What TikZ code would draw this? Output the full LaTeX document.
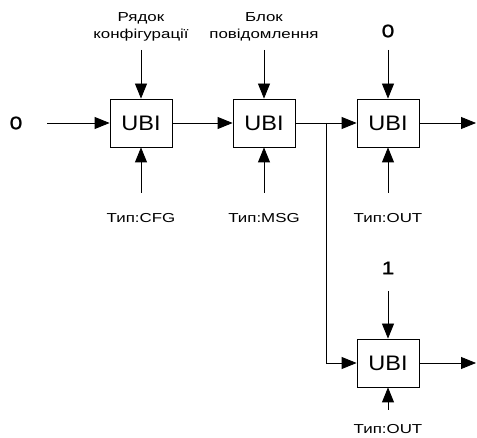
\documentclass[tikz,border=0pt]{standalone}
\usepackage{fontspec}
\setmainfont{Liberation Sans}
\newfontfamily\widefont[FakeStretch=1.3]{Liberation Sans}
\newfontfamily\ubifont[FakeStretch=1.12]{Liberation Sans}
\newfontfamily\digitfont[FakeStretch=1.25, FakeBold=1.2]{Liberation Sans}
\usepackage{tikz}
\usetikzlibrary{arrows.meta, positioning, calc}

\tikzset{
  ubi/.style={draw, line width=0.8pt, minimum width=62pt, minimum height=48pt, inner sep=0pt, font=\ubifont\fontsize{21}{21}\selectfont},
  lbl/.style={inner sep=0pt, align=center, font=\widefont\fontsize{13}{17}\selectfont},
  digit/.style={inner sep=0pt, font=\digitfont\fontsize{18}{18}\selectfont}
}

\begin{document}
\begin{tikzpicture}[x=1pt, y=-1pt, line width=0.8pt, >={Triangle[length=15pt, width=12pt]}]
  \useasboundingbox (0,0) rectangle (477,438);

  % blocks
  \node[ubi] (cfg) at (141,123) {UBI};
  \node[ubi] (msg) at (264,123) {UBI};
  \node[ubi] (outa) at (388,123) {UBI};
  \node[ubi] (outb) at (388,363) {UBI};

  % input labels
  \node[digit] (zero) at (16,123) {0};
  \node[lbl] (cfgtxt) at (141,27) {Рядок\\конфігурації};
  \node[lbl] (msgtxt) at (264,27) {Блок\\повідомлення};
  \node[digit] (zeroa) at (388,31) {0};
  \node[digit] (oneb) at (388,268) {1};

  % type labels
  \node[lbl] (cfgtype) at (141,218) {Тип:CFG};
  \node[lbl] (msgtype) at (264,218) {Тип:MSG};
  \node[lbl] (outatype) at (388,218) {Тип:OUT};
  \node[lbl] (outbtype) at (388,429) {Тип:OUT};

  % free ends
  \coordinate (in) at (47,123);
  \coordinate (split) at (326,123);
  \coordinate (enda) at (476,123);
  \coordinate (endb) at (476,363);
  \foreach \n/\x in {cfg/141, msg/264, outa/388} {
    \coordinate (\n top) at (\x,50);
    \coordinate (\n bot) at (\x,193);
    \draw[->] (\n top) -- (\n.north);
    \draw[->] (\n bot) -- (\n.south);
  }
  \coordinate (outbtop) at (388,291);
  \coordinate (outbbot) at (388,410);
  \draw[->] (outbtop) -- (outb.north);
  \draw[->] (outbbot) -- (outb.south);

  % chain
  \draw[->] (in) -- (cfg.west);
  \draw[->] (cfg.east) -- (msg.west);
  \draw[->] (msg.east) -- (outa.west);
  \draw[->] (split) |- (outb.west);
  \draw[->] (outa.east) -- (enda);
  \draw[->] (outb.east) -- (endb);
\end{tikzpicture}
\end{document}
